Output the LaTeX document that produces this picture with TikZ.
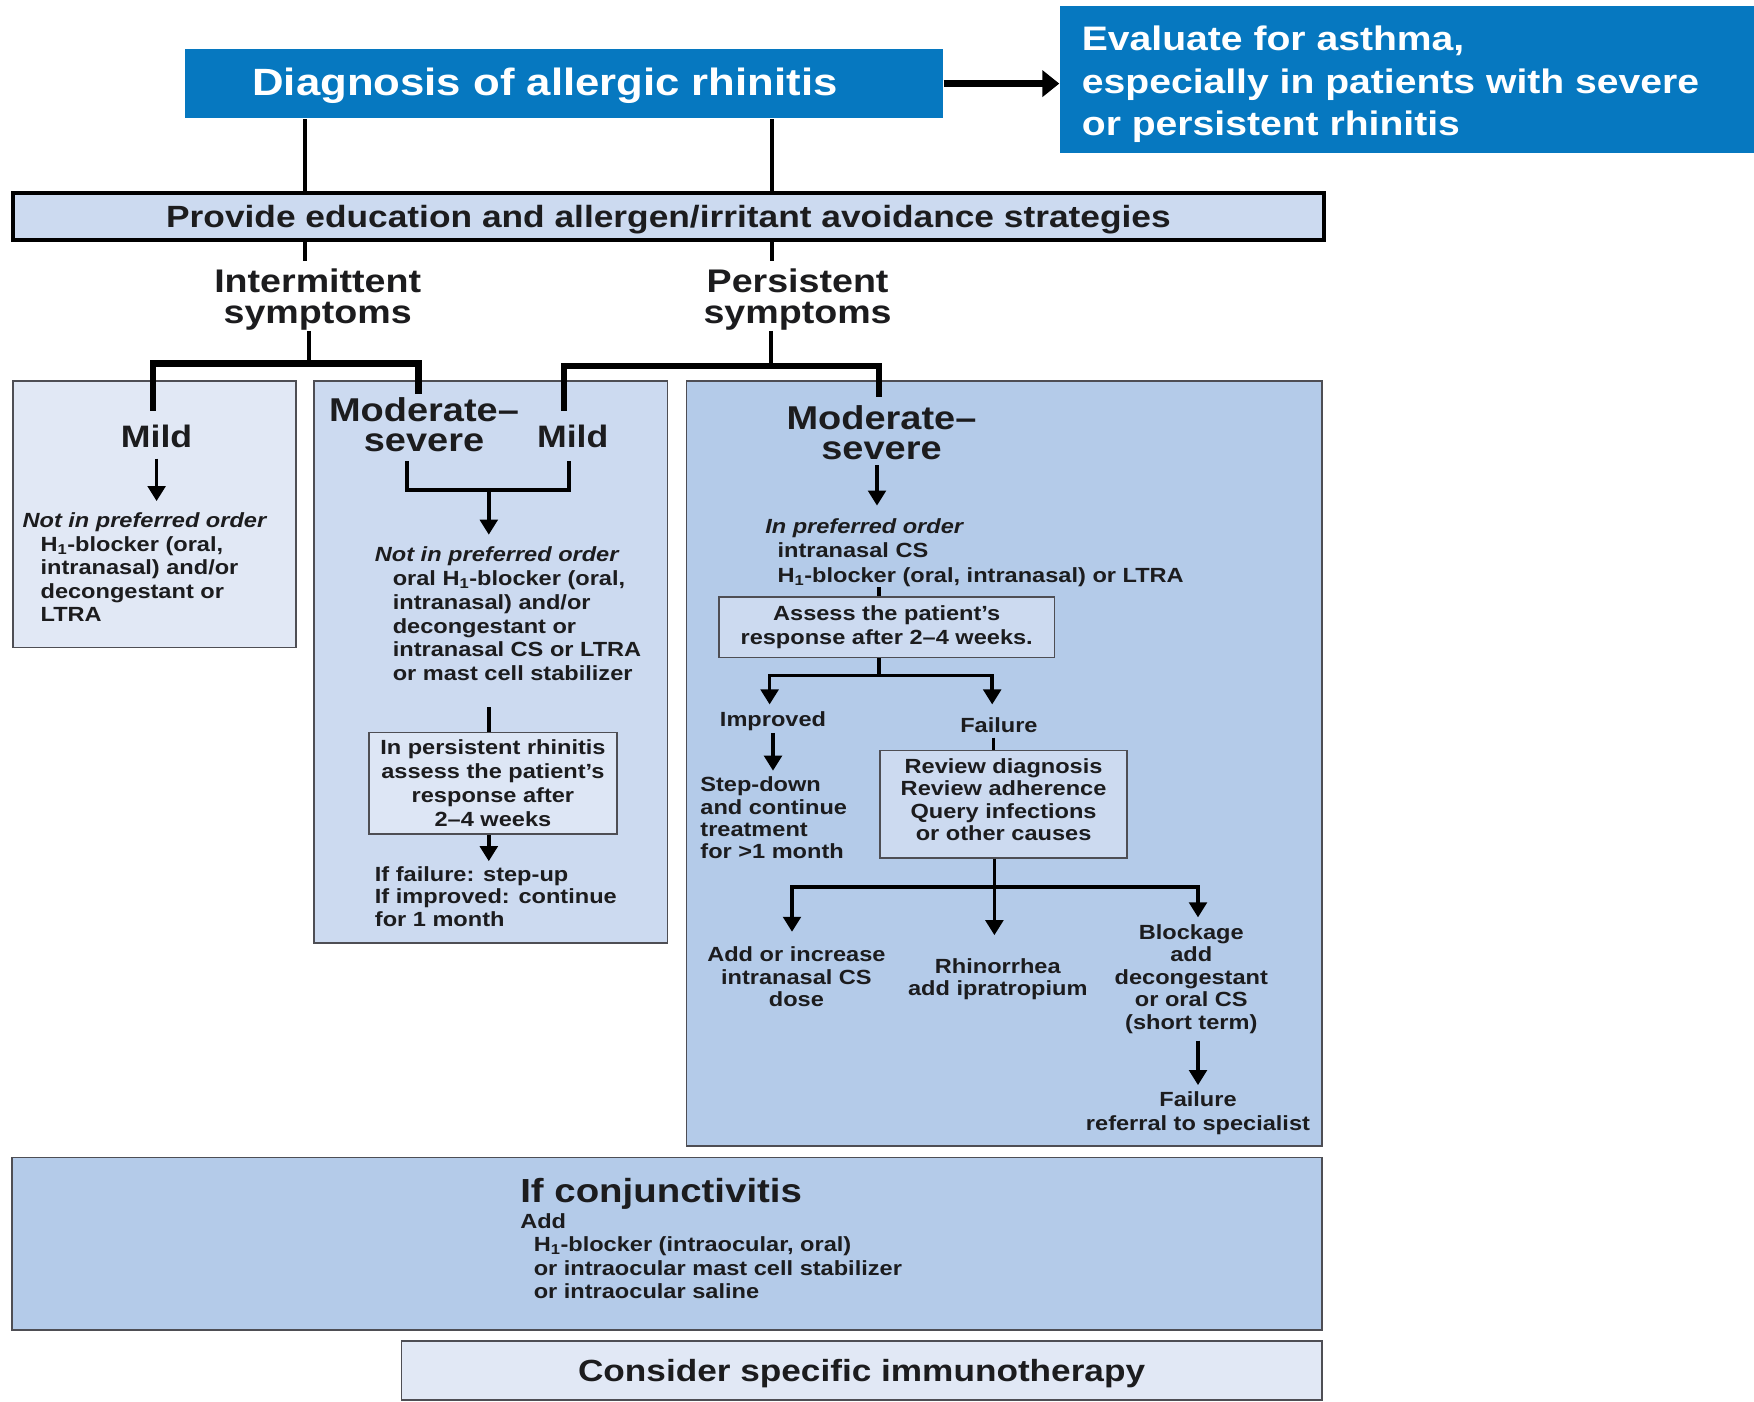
\documentclass[tikz,border=0pt]{standalone}
\usepackage{fontspec}
\setmainfont{Liberation Sans}[FakeStretch=1.15]
\usetikzlibrary{arrows.meta,calc}
\definecolor{dblue}{RGB}{6,120,192}
\definecolor{lavA}{RGB}{225,232,245}
\definecolor{lavB}{RGB}{204,218,240}
\definecolor{lavC}{RGB}{180,203,233}
\definecolor{lavI}{RGB}{221,230,245}
\definecolor{txt}{RGB}{28,28,30}
\definecolor{edge}{RGB}{78,78,84}
\begin{document}
\begin{tikzpicture}[x=1pt,y=-1pt,
  every node/.style={inner sep=0pt, text=txt},
  box/.style={draw=edge, line width=1.6pt, anchor=north west},
  sm/.style={font=\fontsize{20.5}{#1}\selectfont\bfseries},
  sm/.default=23.5,
  bigm/.style={font=\fontsize{31}{30}\selectfont\bfseries},
  bigM/.style={font=\fontsize{33}{30}\selectfont\bfseries},
  bigI/.style={font=\fontsize{32.7}{31}\selectfont\bfseries},
  ln4/.style={line width=4pt},
  ln35/.style={line width=3.6pt},
  barln/.style={line width=6.5pt, line join=miter},
  arr/.style={line width=3.6pt, line join=miter, -{Triangle[length=15pt,width=17.5pt]}}
]
\fill[white] (0,0) rectangle (1754,1401);
\useasboundingbox (0,0) rectangle (1754,1401);

% ---- top ----
\node[box, draw=none, fill=dblue, minimum width=757.3pt, minimum height=69.4pt] (diag) at (184.6,48.1) {};
\node[anchor=base, text=white, font=\fontsize{38}{40}\selectfont\bfseries] (diagT) at (545,95.4) {Diagnosis of allergic rhinitis};
\node[box, draw=none, fill=dblue, minimum width=694.7pt, minimum height=146.5pt] (eval) at (1059.3,5.6) {};
\node[anchor=north west, align=left, text=white, font=\fontsize{34}{42.5}\selectfont\bfseries] (evalT) at (1081.7,25.8) {Evaluate for asthma,\\especially in patients with severe\\or persistent rhinitis};
\draw[line width=7pt, -{Triangle[length=17pt,width=26pt]}] (diag.east) -- (diag.east -| eval.west);

\node[box, draw=black, line width=3.5pt, fill=lavB, minimum width=1311pt, minimum height=47pt, text depth=0pt, font=\fontsize{30.7}{32}\selectfont\bfseries] (prov) at (11.2,191.3) {Provide education and allergen/irritant avoidance strategies};

\coordinate (xa) at (305.4,0);
\coordinate (xb) at (771.8,0);
\draw[ln4] (diag.south -| xa) -- (prov.north -| xa);
\draw[ln4] (diag.south -| xb) -- (prov.north -| xb);
\coordinate (ya) at (305.4,260.6);
\coordinate (yb) at (771.8,260.6);
\draw[ln4] (prov.south -| ya) -- (ya);
\draw[ln4] (prov.south -| yb) -- (yb);

\node[bigI, align=center, anchor=north] (intT) at (317.7,269) {Intermittent\\symptoms};
\node[bigI, align=center, anchor=north] (perT) at (797.6,269) {Persistent\\symptoms};

% ---- boxes ----
\node[box, fill=lavA, minimum width=283pt, minimum height=266.3pt] (boxA) at (12.3,380.3) {};
\node[box, fill=lavB, minimum width=353.5pt, minimum height=561.6pt] (boxB) at (313.2,380.3) {};
\node[box, fill=lavC, minimum width=635.4pt, minimum height=765.1pt] (boxC) at (685.7,380.3) {};
\node[box, fill=lavC, minimum width=1309.9pt, minimum height=172.3pt] (conj) at (11.2,1156.6) {};
\node[box, fill=lavA, minimum width=920.6pt, minimum height=59.3pt, text depth=0pt, font=\fontsize{30.6}{32}\selectfont\bfseries] (immu) at (400.5,1340.1) {Consider specific immunotherapy};

% ---- branch bars ----
\coordinate (iJ) at (308.7,363.6);
\coordinate (iL) at (153.2,363.6);
\coordinate (iR) at (418.4,363.6);
\coordinate (iLd) at (153.2,410.5);
\coordinate (iRd) at (418.4,393.7);
\draw[ln35] (intT.south -| iJ) -- (iJ);
\draw[barln] (iLd) -- (iL) -- (iR) -- (iRd);
\coordinate (pJ) at (770.7,365.8);
\coordinate (pL) at (563.8,365.8);
\coordinate (pR) at (879.2,365.8);
\coordinate (pLd) at (563.8,410.5);
\coordinate (pRd) at (879.2,397.1);
\draw[ln35] (perT.south -| pJ) -- (pJ);
\draw[barln] (pLd) -- (pL) -- (pR) -- (pRd);

% ---- box A ----
\node[bigm, text depth=0pt] (mildA) at (156.6,436.3) {Mild};
\node[sm, anchor=north west, align=left] (naA) at (22.4,512.7) {\textit{Not in preferred order}\\\hspace*{18pt}H\textsubscript{1}-blocker (oral,\\\hspace*{18pt}intranasal) and/or\\\hspace*{18pt}decongestant or\\\hspace*{18pt}LTRA};
\draw[arr, shorten <=11pt, shorten >=11.6pt] (mildA.south) -- (mildA.south |- naA.north);

% ---- box B ----
\node[bigM, align=center, anchor=north] (modA) at (424,397.6) {Moderate--\\severe};
\node[bigm, text depth=0pt] (mildB) at (572.7,436.3) {Mild};
\coordinate (bLt) at (407.2,460.9);
\coordinate (bL) at (407.2,490);
\coordinate (bR) at (569.4,490);
\coordinate (bRt) at (569.4,460.9);
\coordinate (bM) at (488.8,490);
\draw[ln4, line join=miter] (bLt) -- (bL) -- (bR) -- (bRt);
\node[sm=23.9, anchor=north west, align=left] (naB) at (374.7,546.3) {\textit{Not in preferred order}\\\hspace*{17.9pt}oral H\textsubscript{1}-blocker (oral,\\\hspace*{17.9pt}intranasal) and/or\\\hspace*{17.9pt}decongestant or\\\hspace*{17.9pt}intranasal CS or LTRA\\\hspace*{17.9pt}or mast cell stabilizer};
\draw[arr, shorten >=11.6pt] (bM) -- (bM |- naB.north);
\node[box, fill=lavI, minimum width=248.3pt, minimum height=101.8pt, sm=24.2, align=center] (persB) at (368,731.6) {In persistent rhinitis\\assess the patient’s\\response after\\2--4 weeks};
\coordinate (c2a) at (488.8,707);
\draw[ln35] (c2a) -- (c2a |- persB.north);
\node[sm=22.4, anchor=north west, align=left] (ifB) at (374.7,866.2) {If failure: step-up\\If improved: continue\\for 1 month};
\draw[arr, shorten >=5pt] (persB.south -| c2a) -- (ifB.north -| c2a);

% ---- box C ----
\node[bigM, align=center, anchor=north] (modC) at (881.5,405.3) {Moderate--\\severe};
\node[sm=24.6, anchor=north west, align=left] (preC) at (765.1,518.3) {\textit{In preferred order}\\\hspace*{12.3pt}intranasal CS\\\hspace*{12.3pt}H\textsubscript{1}-blocker (oral, intranasal) or LTRA};
\coordinate (c3x) at (877,0);
\draw[arr, shorten <=5.3pt, shorten >=12.7pt] (modC.south -| c3x) -- (preC.north -| c3x);
\node[box, fill=lavB, minimum width=335.6pt, minimum height=60.4pt, sm=24.6, align=center] (assess) at (718.1,596.2) {Assess the patient’s\\response after 2--4 weeks.};
\coordinate (c3b) at (879.2,587.3);
\draw[ln35] (c3b) -- (c3b |- assess.north);
\node[sm, text depth=0pt] (impC) at (773,719.3) {Improved};
\node[sm, text depth=0pt] (failC) at (998.9,724.9) {Failure};
\coordinate (j3) at (879.2,675.6);
\coordinate (j3L) at (769.6,675.6);
\coordinate (j3R) at (992.2,675.6);
\draw[arr, shorten >=7.2pt] (assess.south -| j3) |- (j3L) -- (j3L |- impC.north);
\draw[arr, shorten >=12.8pt] (j3) -- (j3R) -- (j3R |- failC.north);
\node[sm=22.4, anchor=north west, align=left] (stepC) at (700.2,776.7) {Step-down\\and continue\\treatment\\for >1 month};
\draw[arr, shorten <=6pt, shorten >=6pt] (impC.south) -- (impC.south |- stepC.north);
\node[box, fill=lavB, minimum width=247.2pt, minimum height=107.4pt, sm=22.4, align=center, text depth=9pt] (review) at (879.2,749.5) {Review diagnosis\\Review adherence\\Query infections\\or other causes};
\coordinate (c3r) at (993.3,0);
\draw[ln35, shorten <=5pt] (failC.south -| c3r) -- (review.north -| c3r);
\coordinate (j4) at (994.4,887);
\coordinate (j4L) at (792,887);
\coordinate (j4R) at (1198,887);
\node[sm=22.4, align=center, anchor=north] (addC) at (796.4,946.8) {Add or increase\\intranasal CS\\dose};
\node[sm=22.3, align=center, anchor=north] (rhinC) at (997.8,958) {Rhinorrhea\\add ipratropium};
\node[sm=22.4, align=center, anchor=north] (blockC) at (1191.3,924.4) {Blockage\\add\\decongestant\\or oral CS\\(short term)};
\node[sm=24.6, align=center, anchor=north] (failD) at (1198,1091.1) {Failure\\referral to specialist};
\draw[arr, shorten >=22.8pt] (review.south -| j4) -- (j4 |- rhinC.north);
\draw[arr, shorten >=15pt] (j4) -- (j4L) -- (j4L |- addC.north);
\draw[arr, shorten >=7pt] (j4) -- (j4R) -- (j4R |- blockC.north);
\draw[arr, shorten <=7pt, shorten >=6pt] (blockC.south -| j4R) -- (failD.north -| j4R);

% ---- conjunctivitis ----
\node[anchor=north west, font=\fontsize{33.4}{35}\selectfont\bfseries] (conjT) at (520.1,1178.2) {If conjunctivitis};
\node[sm, anchor=north west, align=left] (addT) at (520.1,1213) {Add\\\hspace*{13.5pt}H\textsubscript{1}-blocker (intraocular, oral)\\\hspace*{13.5pt}or intraocular mast cell stabilizer\\\hspace*{13.5pt}or intraocular saline};
\end{tikzpicture}
\end{document}
